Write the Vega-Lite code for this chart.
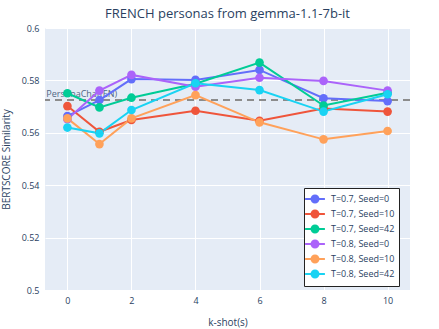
{
  "$schema": "https://vega.github.io/schema/vega-lite/v6.json",
  "width": 365,
  "height": 262,
  "autosize": {"type": "none"},
  "padding": {"left": 45, "top": 28, "right": 29, "bottom": 39},
  "background": "white",
  "title": {"text": "FRENCH personas from gemma-1.1-7b-it", "font": "Open Sans", "fontSize": 13, "fontWeight": "normal", "color": "#2a3f5f", "anchor": "middle", "offset": 3},
  "config": {
    "view": {"fill": "#e5ecf6", "stroke": null},
    "axis": {"domain": false, "ticks": false, "gridColor": "white", "gridWidth": 1, "labelColor": "#2a3f5f", "labelFont": "Open Sans", "labelFontSize": 9, "titleColor": "#2a3f5f", "titleFont": "Open Sans", "titleFontSize": 10, "titleFontWeight": "normal"},
    "legend": {"strokeColor": "#222", "fillColor": "white"}
  },
  "data": {"values": [
    {"k": 0, "s": "T=0.7, Seed=0", "v": 0.5664},
    {"k": 1, "s": "T=0.7, Seed=0", "v": 0.5725},
    {"k": 2, "s": "T=0.7, Seed=0", "v": 0.5805},
    {"k": 4, "s": "T=0.7, Seed=0", "v": 0.5802},
    {"k": 6, "s": "T=0.7, Seed=0", "v": 0.5840},
    {"k": 8, "s": "T=0.7, Seed=0", "v": 0.5732},
    {"k": 10, "s": "T=0.7, Seed=0", "v": 0.5721},
    {"k": 0, "s": "T=0.7, Seed=10", "v": 0.5702},
    {"k": 1, "s": "T=0.7, Seed=10", "v": 0.5604},
    {"k": 2, "s": "T=0.7, Seed=10", "v": 0.5649},
    {"k": 4, "s": "T=0.7, Seed=10", "v": 0.5684},
    {"k": 6, "s": "T=0.7, Seed=10", "v": 0.5646},
    {"k": 8, "s": "T=0.7, Seed=10", "v": 0.5693},
    {"k": 10, "s": "T=0.7, Seed=10", "v": 0.5681},
    {"k": 0, "s": "T=0.7, Seed=42", "v": 0.5751},
    {"k": 1, "s": "T=0.7, Seed=42", "v": 0.5697},
    {"k": 2, "s": "T=0.7, Seed=42", "v": 0.5734},
    {"k": 4, "s": "T=0.7, Seed=42", "v": 0.5787},
    {"k": 6, "s": "T=0.7, Seed=42", "v": 0.5868},
    {"k": 8, "s": "T=0.7, Seed=42", "v": 0.5704},
    {"k": 10, "s": "T=0.7, Seed=42", "v": 0.5753},
    {"k": 0, "s": "T=0.8, Seed=0", "v": 0.5652},
    {"k": 1, "s": "T=0.8, Seed=0", "v": 0.5761},
    {"k": 2, "s": "T=0.8, Seed=0", "v": 0.5821},
    {"k": 4, "s": "T=0.8, Seed=0", "v": 0.5776},
    {"k": 6, "s": "T=0.8, Seed=0", "v": 0.5810},
    {"k": 8, "s": "T=0.8, Seed=0", "v": 0.5798},
    {"k": 10, "s": "T=0.8, Seed=0", "v": 0.5761},
    {"k": 0, "s": "T=0.8, Seed=10", "v": 0.5655},
    {"k": 1, "s": "T=0.8, Seed=10", "v": 0.5557},
    {"k": 2, "s": "T=0.8, Seed=10", "v": 0.5655},
    {"k": 4, "s": "T=0.8, Seed=10", "v": 0.5744},
    {"k": 6, "s": "T=0.8, Seed=10", "v": 0.5640},
    {"k": 8, "s": "T=0.8, Seed=10", "v": 0.5575},
    {"k": 10, "s": "T=0.8, Seed=10", "v": 0.5607},
    {"k": 0, "s": "T=0.8, Seed=42", "v": 0.5620},
    {"k": 1, "s": "T=0.8, Seed=42", "v": 0.5598},
    {"k": 2, "s": "T=0.8, Seed=42", "v": 0.5687},
    {"k": 4, "s": "T=0.8, Seed=42", "v": 0.5789},
    {"k": 6, "s": "T=0.8, Seed=42", "v": 0.5763},
    {"k": 8, "s": "T=0.8, Seed=42", "v": 0.5681},
    {"k": 10, "s": "T=0.8, Seed=42", "v": 0.5747}
  ]},
  "layer": [
    {
      "data": {"values": [{"base": 0.5725, "label": "PersonaChat(EN)", "lx": -0.66}]},
      "mark": {"type": "rule", "strokeDash": [7, 5], "strokeWidth": 2, "color": "#8c8c8c"},
      "encoding": {"y": {"field": "base", "type": "quantitative"}}
    },
    {
      "data": {"values": [{"base": 0.5725, "label": "PersonaChat(EN)", "lx": -0.66}]},
      "mark": {"type": "text", "align": "left", "baseline": "bottom", "font": "Open Sans", "fontSize": 9, "color": "#506784", "dy": -1},
      "encoding": {
        "x": {"field": "lx", "type": "quantitative"},
        "y": {"field": "base", "type": "quantitative"},
        "text": {"field": "label"}
      }
    },
    {
      "mark": {"type": "line", "strokeWidth": 2, "point": {"filled": true, "size": 75, "opacity": 1}},
      "encoding": {
        "x": {"field": "k", "type": "quantitative", "scale": {"domain": [-0.7, 10.7], "nice": false, "zero": false}, "axis": {"values": [0, 2, 4, 6, 8, 10], "title": "k-shot(s)", "titlePadding": 12, "labelPadding": 6}},
        "y": {"field": "v", "type": "quantitative", "scale": {"domain": [0.5, 0.6], "nice": false, "zero": false}, "axis": {"values": [0.5, 0.52, 0.54, 0.56, 0.58, 0.6], "format": "~g", "title": "BERTSCORE Similarity", "titlePadding": 10, "labelPadding": 6}},
        "color": {
          "field": "s", "type": "nominal",
          "scale": {"domain": ["T=0.7, Seed=0", "T=0.7, Seed=10", "T=0.7, Seed=42", "T=0.8, Seed=0", "T=0.8, Seed=10", "T=0.8, Seed=42"], "range": ["#636efa", "#EF553B", "#00cc96", "#ab63fa", "#FFA15A", "#19d3f3"]},
          "legend": {
            "title": null, "orient": "none", "legendX": 259, "legendY": 160,
            "fillColor": "white", "strokeColor": "#222", "padding": 4,
            "labelFont": "Open Sans", "labelFontSize": 9, "labelColor": "#2a3f5f",
            "symbolType": "M -1.65 0 L 1.65 0 M 0.58 0 A 0.58 0.58 0 1 1 -0.58 0 A 0.58 0.58 0 1 1 0.58 0 Z",
            "symbolSize": 144, "symbolStrokeWidth": 2, "rowPadding": -3, "labelOffset": 9, "offset": 0
          }
        }
      }
    }
  ]
}
